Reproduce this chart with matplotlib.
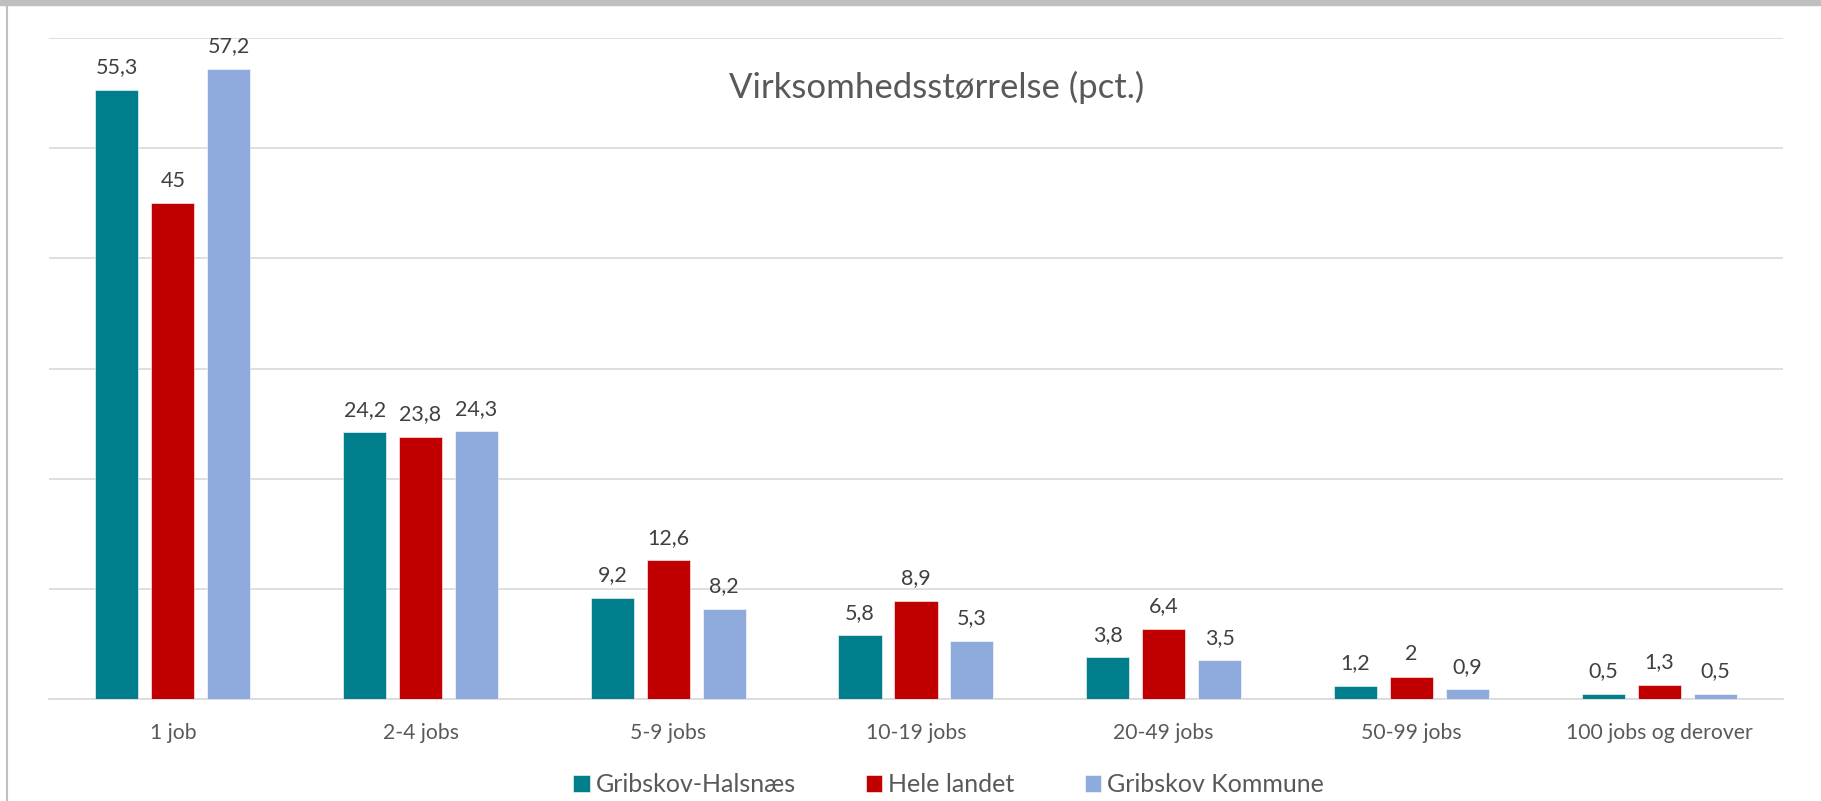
import matplotlib
matplotlib.use("Agg")
import matplotlib.pyplot as plt
import numpy as np

# Data
categories = ["1 job", "2-4 jobs", "5-9 jobs", "10-19 jobs", "20-49 jobs",
              "50-99 jobs", "100 jobs og derover"]
series_names = ["Gribskov-Halsnæs", "Hele landet", "Gribskov Kommune"]
gribskov_halsnaes = [55.3, 24.2, 9.2, 5.8, 3.8, 1.2, 0.5]
hele_landet = [45, 23.8, 12.6, 8.9, 6.4, 2, 1.3]
gribskov_kommune = [57.2, 24.3, 8.2, 5.3, 3.5, 0.9, 0.5]
title = "Virksomhedsstørrelse (pct.)"

colors = ["#007E8B", "#C00000", "#8FAADC"]
text_col = "#595959"
label_col = "#404040"

plt.rcParams["font.family"] = ["Lato", "DejaVu Sans"]

fig = plt.figure(figsize=(18.21, 8.01), dpi=100)
ax = fig.add_axes([0.0269, 0.1273, 0.9522, 0.8253])

x = np.arange(len(categories))
width = 0.174
step = 0.226


def fmt(v):
    if float(v).is_integer():
        return str(int(v))
    return ("%.1f" % v).replace(".", ",")


all_series = [gribskov_halsnaes, hele_landet, gribskov_kommune]
for i, (vals, name, col) in enumerate(zip(all_series, series_names, colors)):
    bars = ax.bar(x + (i - 1) * step, vals, width, color=col, label=name,
                  edgecolor="white", linewidth=0.4, zorder=3)
    ax.bar_label(bars, labels=[fmt(v) for v in vals], padding=9,
                 fontsize=15.5, color=label_col)

ax.set_xlim(-0.5, len(categories) - 0.5)
ax.set_ylim(0, 60)
ax.set_yticks(np.arange(0, 61, 10))
ax.set_yticklabels([])
ax.tick_params(axis="y", length=0)
ax.grid(axis="y", color="#D9D9D9", linewidth=1.2, zorder=0)
ax.set_xticks(x)
ax.set_xticklabels(categories, fontsize=15.2, color=text_col)
ax.tick_params(axis="x", length=0, pad=17)
for s in ["top", "right", "left"]:
    ax.spines[s].set_visible(False)
ax.spines["bottom"].set_color("#D9D9D9")
ax.spines["bottom"].set_linewidth(1.2)

fig.text(0.5146, 0.891, title, fontsize=25, color=text_col,
         ha="center", va="center")

fig.legend(loc="center", bbox_to_anchor=(0.521, 0.02), ncol=3,
           frameon=False, fontsize=18, labelcolor=text_col,
           handlelength=0.65, handleheight=0.65, handletextpad=0.25,
           columnspacing=2.8)

# frame remnants: grey band on top and line on the left
fig.add_artist(plt.Rectangle((0, 1 - 5 / 801), 1, 5 / 801,
                             transform=fig.transFigure, color="#BFBFBF"))
fig.add_artist(plt.Line2D([7 / 1821, 7 / 1821], [0, 1],
                          transform=fig.transFigure, color="#BFBFBF",
                          linewidth=1.5))

fig.savefig("out.png", dpi=100)
